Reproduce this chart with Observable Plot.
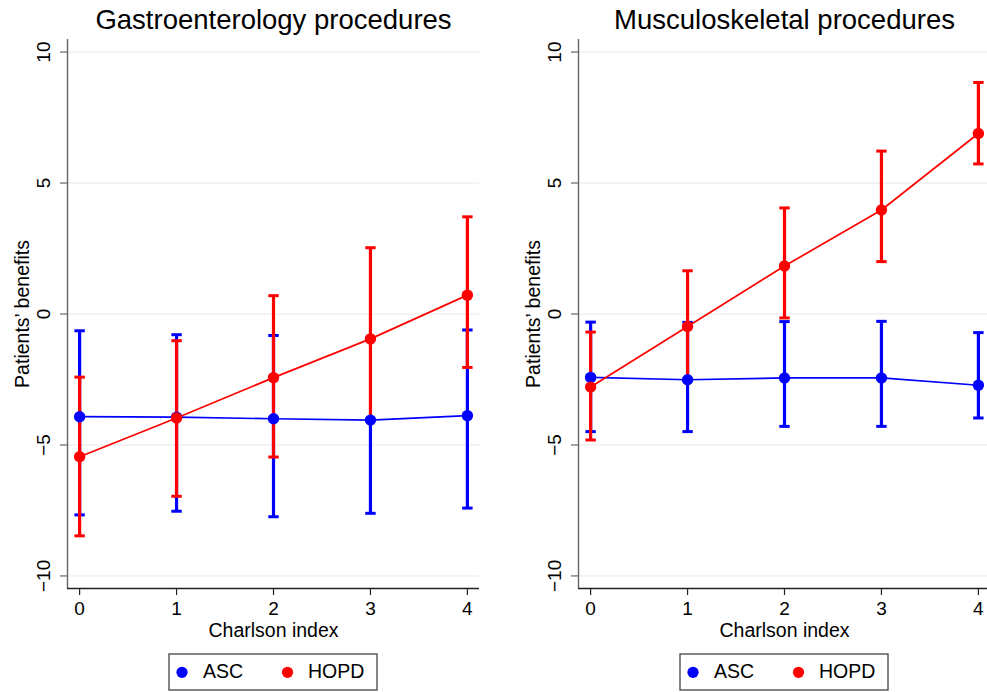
<!DOCTYPE html>
<html><head><meta charset="utf-8">
<script src="https://cdn.jsdelivr.net/npm/d3@7"></script>
<script src="https://cdn.jsdelivr.net/npm/@observablehq/plot@0.6"></script>
<style>
html,body{margin:0;padding:0;background:#fff;overflow:hidden;}
#wrap{position:relative;width:987px;height:692px;overflow:hidden;background:#fff;}
#wrap > svg{position:absolute;}
</style></head><body><div id="wrap"></div>
<script>
const charlson = [0, 1, 2, 3, 4];
const xTicks = [0, 1, 2, 3, 4];
const yTicks = [-10, -5, 0, 5, 10];
const series = ["ASC", "HOPD"];
const seriesColors = ["#0000ff", "#ff0000"];
const panelTitles = ["Gastroenterology procedures", "Musculoskeletal procedures"];
const yLabel = "Patients\u2019 benefits";
const xLabel = "Charlson index";

// Gastroenterology
const gastroAscMean  = [-3.92, -3.94, -4.00, -4.05, -3.88];
const gastroAscLow   = [-7.67, -7.53, -7.74, -7.61, -7.41];
const gastroAscHigh  = [-0.64, -0.79, -0.82, -4.05, -0.61];
const gastroHopdMean = [-5.45, -3.97, -2.43, -0.95, 0.72];
const gastroHopdLow  = [-8.47, -6.96, -5.46, -4.05, -2.04];
const gastroHopdHigh = [-2.41, -1.02, 0.70, 2.53, 3.71];

// Musculoskeletal
const muscAscMean  = [-2.42, -2.51, -2.44, -2.44, -2.72];
const muscAscLow   = [-4.49, -4.49, -4.29, -4.29, -3.97];
const muscAscHigh  = [-0.31, -0.32, -0.29, -0.28, -0.71];
const muscHopdMean = [-2.79, -0.48, 1.83, 3.97, 6.89];
const muscHopdLow  = [-4.81, -2.51, -0.15, 2.00, 5.73];
const muscHopdHigh = [-0.69, 1.65, 4.05, 6.22, 8.84];

const xDomain = [-0.125, 4.125];
const yDomain = [-10.48, 10.48];

function rows(mean, low, high, group) {
  return charlson.map((c, i) => ({charlson: c, mean: mean[i], low: low[i], high: high[i], group}));
}

const capSymbol = {draw(ctx) { ctx.moveTo(-5.2, 0); ctx.lineTo(5.2, 0); }};

const W = 493, H = 650, ML = 67, MR = 14, MT = 39, MB = 62;
const FONT = "'Liberation Sans', Arial, Helvetica, sans-serif";

function panel(title, asc, hopd) {
  const groups = [asc, hopd];
  const bars = [], lines = [], dots = [];
  groups.forEach((g, k) => {
    const c = seriesColors[k];
    bars.push(Plot.ruleX(g, {x: "charlson", y1: "low", y2: "high", stroke: c, strokeWidth: 3.2}));
    bars.push(Plot.dot(g, {x: "charlson", y: "low", symbol: capSymbol, fill: "none", stroke: c, strokeWidth: 3}));
    bars.push(Plot.dot(g, {x: "charlson", y: "high", symbol: capSymbol, fill: "none", stroke: c, strokeWidth: 3}));
    lines.push(Plot.line(g, {x: "charlson", y: "mean", stroke: c, strokeWidth: 1.7}));
    dots.push(Plot.dot(g, {x: "charlson", y: "mean", r: 5.7, fill: c, stroke: "none"}));
  });
  return Plot.plot({
    width: W, height: H, marginLeft: ML, marginRight: MR, marginTop: MT, marginBottom: MB,
    style: {fontFamily: FONT, fontSize: "19px", color: "#000", background: "transparent", overflow: "visible"},
    x: {domain: xDomain, label: null},
    y: {domain: yDomain, label: null},
    marks: [
      Plot.gridY(yTicks, {stroke: "#e8e8e8", strokeOpacity: 1, strokeWidth: 1}),
      Plot.ruleX([xDomain[0]], {stroke: "#666", strokeWidth: 1.4}),
      Plot.ruleY([yDomain[0]], {stroke: "#222", strokeWidth: 1.4}),
      Plot.axisY(yTicks, {tickSize: 7, tickRotate: -90, tickPadding: 11, stroke: "#666", strokeWidth: 1.2, label: null, fontSize: 19}),
      Plot.axisX(xTicks, {tickSize: 7, tickPadding: 6, stroke: "#222", strokeWidth: 1.2, label: null, fontSize: 19}),
      ...bars, ...lines, ...dots,
      Plot.text([title], {frameAnchor: "top", dy: -11, lineAnchor: "bottom", textAnchor: "middle", fontSize: 27.5, fill: "#000"}),
      Plot.text([yLabel], {frameAnchor: "left", rotate: -90, dx: -39, lineAnchor: "bottom", textAnchor: "middle", fontSize: 19.5, fill: "#000"}),
      Plot.text([xLabel], {frameAnchor: "bottom", dy: 48.5, lineAnchor: "bottom", textAnchor: "middle", fontSize: 19.5, fill: "#000"})
    ]
  });
}

const wrap = document.getElementById("wrap");
const left = panel(panelTitles[0], rows(gastroAscMean, gastroAscLow, gastroAscHigh, "ASC"), rows(gastroHopdMean, gastroHopdLow, gastroHopdHigh, "HOPD"));
const right = panel(panelTitles[1], rows(muscAscMean, muscAscLow, muscAscHigh, "ASC"), rows(muscHopdMean, muscHopdLow, muscHopdHigh, "HOPD"));
left.style.left = "0px"; left.style.top = "0px";
right.style.left = "511px"; right.style.top = "0px";
wrap.appendChild(left); wrap.appendChild(right);

// Legends below each panel
const lg = d3.create("svg").attr("width", 987).attr("height", 42)
  .style("left", "0px").style("top", "650px")
  .style("font-family", FONT);
const plotW = W - ML - MR;
[0, 511].forEach(off => {
  const cx = off + ML + plotW / 2;
  const bx = cx - 104;
  const g = lg.append("g").attr("transform", `translate(${bx},4)`);
  g.append("rect").attr("x", 0).attr("y", 0).attr("width", 208).attr("height", 36)
    .attr("fill", "#fff").attr("stroke", "#444").attr("stroke-width", 1.3);
  const items = [{dx: 13, tx: 34}, {dx: 118.5, tx: 139}];
  series.forEach((s, i) => {
    g.append("circle").attr("cx", items[i].dx).attr("cy", 18.3).attr("r", 5.6).attr("fill", seriesColors[i]);
    g.append("text").attr("x", items[i].tx).attr("y", 24.3).attr("font-size", 19.5).attr("fill", "#000").text(s);
  });
});
wrap.appendChild(lg.node());
</script></body></html>
